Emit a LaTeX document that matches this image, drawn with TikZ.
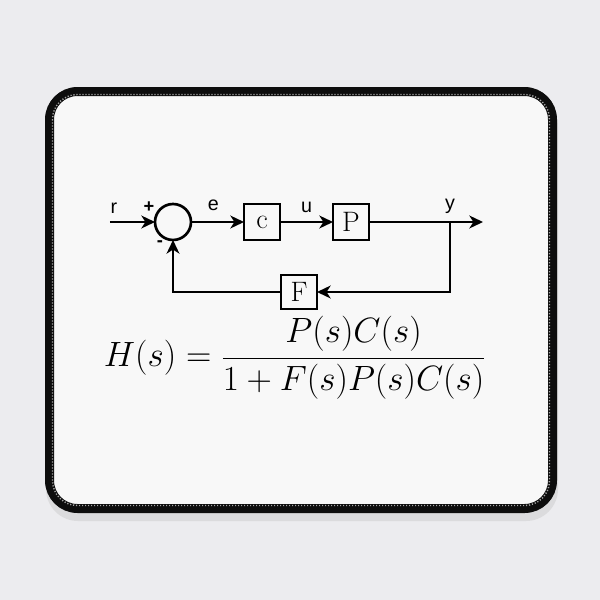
\RequirePackage{fix-cm}
\documentclass[tikz,border=0pt]{standalone}
\usepackage{fontspec}
\setsansfont{Liberation Sans}
\usetikzlibrary{arrows.meta,positioning,calc}
\definecolor{deskgray}{HTML}{ECECEF}
\definecolor{padwhite}{HTML}{F8F8F8}
\tikzset{
  block/.style={draw,line width=1.9pt,minimum width=9mm,minimum height=9mm,
    inner sep=0pt,outer sep=0pt,font=\fontsize{20}{20}\selectfont,fill=padwhite},
  sumnode/.style={draw,circle,line width=1.9pt,minimum size=9mm,inner sep=0pt,
    outer sep=0pt},
  sig/.style={font=\sffamily\fontsize{14}{14}\selectfont,inner sep=0pt},
  sign/.style={font=\sffamily\bfseries\fontsize{13}{13}\selectfont,inner sep=0pt},
  flow/.style={-{Stealth[length=3.4mm,width=3.2mm,inset=1mm]},line width=1.9pt},
}

\begin{document}
\begin{tikzpicture}[x=0.25mm,y=-0.25mm]
  % desk and mouse pad
  \fill[deskgray] (0,0) rectangle (600,600);
  \useasboundingbox (0,0) rectangle (600,600);
  \fill[black!20,opacity=0.5,rounded corners=8mm] (46,95) rectangle (558,521);
  \filldraw[fill=padwhite,draw=black!95,line width=2.25mm,rounded corners=7mm]
    (49.5,91.5) rectangle (552.5,508.5);
  \draw[gray!70,line width=0.35mm,dash pattern=on 0.3mm off 0.45mm,
    rounded corners=6.2mm] (52.5,94.5) rectangle (549.5,505.5);

  % loop
  \node[sumnode] (sum) at (173,222) {};
  \node[block,right=13.25mm of sum] (ctrl) {c};
  \node[block,right=13.25mm of ctrl] (plant) {P};
  \coordinate[right=20.25mm of plant] (branch);
  \coordinate[right=8.25mm of branch] (out);
  \coordinate[left=11.25mm of sum] (in);
  \node[block,minimum height=8.5mm] (fb) at (299,292) {F};

  \draw[flow] (in) -- (sum);
  \draw[flow] (sum) -- node[sig,above=2.5mm,pos=0.42] (elab) {e} (ctrl);
  \draw[flow] (ctrl) -- node[sig,above=2mm] (ulab) {u} (plant);
  \draw[flow] (plant) -- (out);
  \draw[flow] (branch) |- (fb);
  \draw[flow] (fb) -| (sum);

  \node[sig] (rlab) at (114,208) {r};
  \node[sig,above=2mm of branch] (ylab) {y};
  \node[sign] (plus) at (149,207) {+};
  \node[sign] (minus) at (160,244) {-};

  \node (tf) at (295,358) {\fontsize{25}{30}\selectfont
    $\displaystyle H(s)=\frac{P(s)C(s)}{1+F(s)P(s)C(s)}$};
\end{tikzpicture}
\end{document}
